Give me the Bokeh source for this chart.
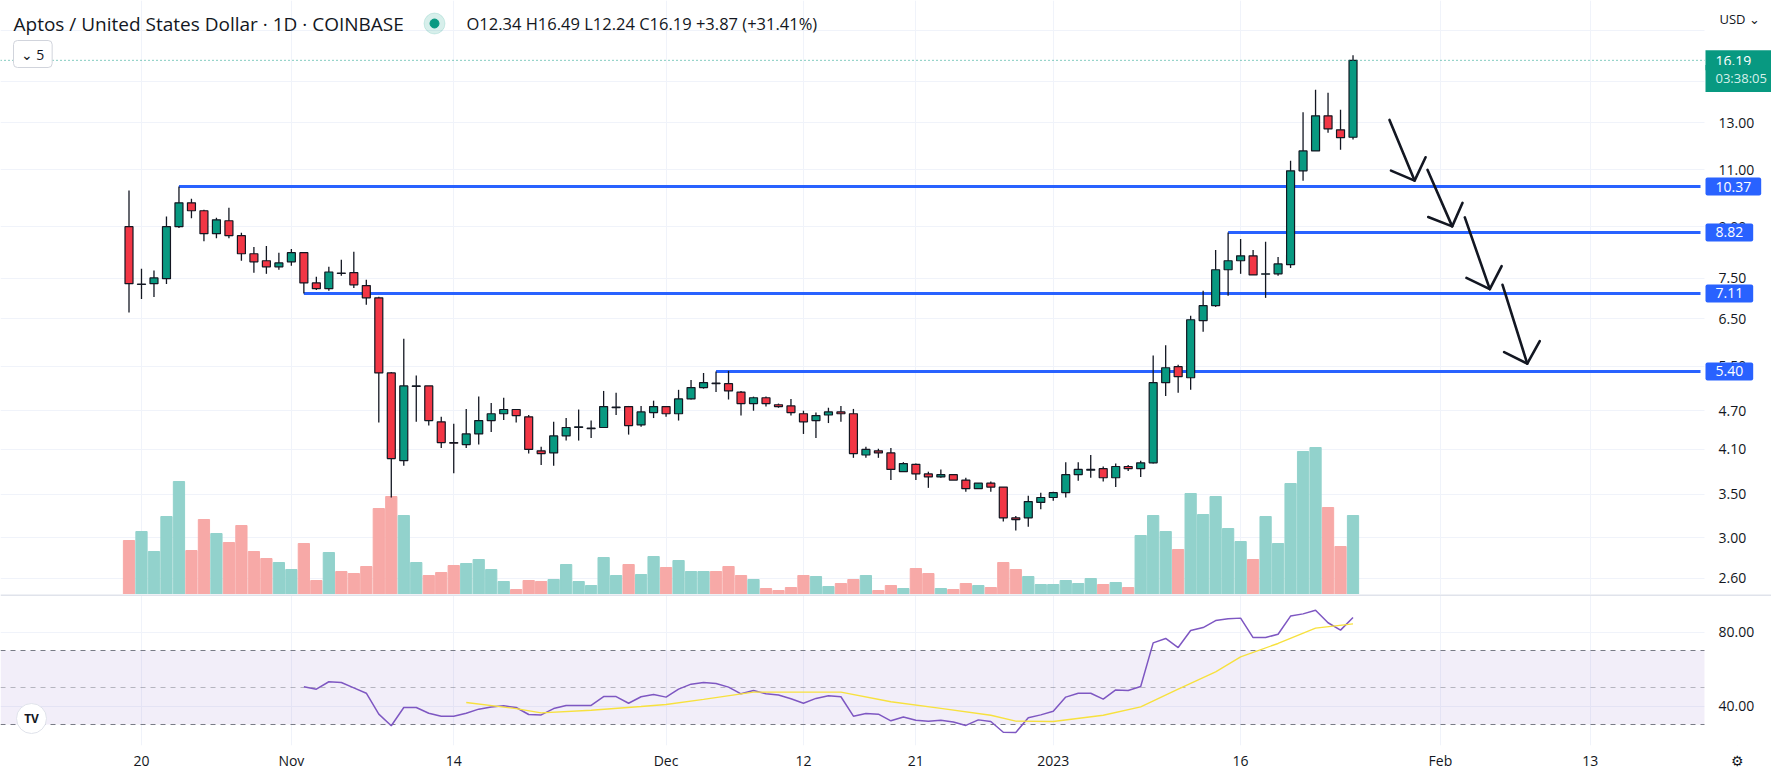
import math
import pandas as pd
from bokeh.plotting import figure
from bokeh.layouts import column
from bokeh.models import Range1d, LinearScale, FixedTicker, Label, Span, BoxAnnotation, Grid
from bokeh.embed import file_html
from bokeh.resources import INLINE

# ---------------- data ----------------
start_date = "2022-10-19"

open_ = [9.00, 7.34, 7.36, 7.49, 9.00, 9.79, 9.52, 8.78, 9.19, 8.72,
         8.18, 7.98, 7.81, 7.95, 8.21, 7.38, 7.23, 7.64, 7.65, 7.31,
         7.00, 5.37, 3.94, 5.12, 5.13, 4.52, 4.20, 4.17, 4.33, 4.54,
         4.65, 4.72, 4.60, 4.08, 4.05, 4.30, 4.43, 4.41, 4.43, 4.75,
         4.77, 4.47, 4.67, 4.77, 4.65, 4.90, 5.10, 5.18, 5.17, 5.02,
         4.82, 4.92, 4.80, 4.78, 4.65, 4.54, 4.63, 4.68, 4.65, 4.02,
         4.08, 4.05, 3.79, 3.89, 3.76, 3.72, 3.75, 3.68, 3.57, 3.64,
         3.59, 3.22, 3.22, 3.40, 3.46, 3.52, 3.75, 3.81, 3.83, 3.71,
         3.86, 3.83, 3.91, 5.19, 5.49, 5.28, 6.46, 6.81, 7.73, 7.98,
         8.12, 7.61, 7.62, 7.87, 10.96, 11.76, 13.31, 12.67, 12.34]
high = [10.23, 7.76, 7.71, 9.33, 10.37, 9.93, 9.55, 9.29, 9.62, 8.81,
        8.38, 8.41, 8.21, 8.32, 8.21, 7.54, 7.81, 8.01, 8.24, 7.46,
        7.03, 5.39, 6.06, 5.32, 5.13, 4.60, 4.49, 4.73, 4.94, 4.83,
        4.92, 4.72, 4.63, 4.14, 4.52, 4.58, 4.72, 4.54, 5.04, 5.01,
        4.78, 4.78, 4.87, 4.78, 5.06, 5.24, 5.37, 5.40, 5.41, 5.04,
        4.94, 4.94, 4.82, 4.90, 4.70, 4.67, 4.75, 4.78, 4.73, 4.14,
        4.11, 4.12, 3.92, 3.90, 3.79, 3.82, 3.76, 3.71, 3.64, 3.66,
        3.59, 3.24, 3.48, 3.52, 3.53, 3.92, 3.92, 4.02, 3.86, 3.90,
        3.88, 3.94, 5.71, 5.92, 5.53, 6.57, 7.18, 8.29, 8.82, 8.62,
        8.29, 8.53, 8.09, 11.36, 13.48, 14.59, 14.44, 13.60, 16.49]
low = [6.65, 6.97, 7.02, 7.35, 8.96, 9.27, 8.55, 8.64, 8.64, 7.98,
       7.65, 7.62, 7.73, 7.84, 7.11, 7.20, 7.18, 7.57, 7.25, 6.83,
       4.51, 3.46, 3.87, 4.52, 4.46, 4.12, 3.77, 4.12, 4.17, 4.36,
       4.55, 4.51, 4.04, 3.88, 3.87, 4.23, 4.23, 4.27, 4.43, 4.63,
       4.32, 4.44, 4.58, 4.60, 4.54, 4.89, 5.08, 5.02, 4.89, 4.62,
       4.70, 4.77, 4.75, 4.62, 4.33, 4.27, 4.50, 4.52, 3.98, 3.98,
       3.98, 3.68, 3.79, 3.68, 3.58, 3.71, 3.68, 3.53, 3.57, 3.53,
       3.18, 3.08, 3.12, 3.32, 3.42, 3.46, 3.67, 3.71, 3.66, 3.59,
       3.80, 3.72, 3.90, 4.95, 5.01, 5.06, 6.21, 6.78, 7.05, 7.62,
       7.59, 7.00, 7.57, 7.78, 10.58, 11.76, 12.54, 11.81, 12.24]
close = [7.36, 7.35, 7.51, 9.00, 9.79, 9.52, 8.78, 9.22, 8.72, 8.18,
         7.95, 7.81, 7.92, 8.21, 7.38, 7.23, 7.67, 7.63, 7.33, 7.00,
         5.37, 3.97, 5.13, 5.13, 4.54, 4.20, 4.19, 4.33, 4.54, 4.65,
         4.72, 4.62, 4.10, 4.04, 4.30, 4.43, 4.44, 4.42, 4.77, 4.76,
         4.46, 4.68, 4.77, 4.65, 4.90, 5.10, 5.19, 5.17, 5.04, 4.82,
         4.92, 4.82, 4.77, 4.67, 4.52, 4.62, 4.68, 4.65, 4.04, 4.10,
         4.05, 3.82, 3.90, 3.76, 3.72, 3.75, 3.68, 3.57, 3.64, 3.59,
         3.22, 3.20, 3.41, 3.46, 3.52, 3.75, 3.82, 3.82, 3.71, 3.86,
         3.83, 3.91, 5.19, 5.47, 5.30, 6.48, 6.81, 7.73, 7.98, 8.12,
         7.59, 7.62, 7.89, 10.96, 11.76, 13.31, 12.71, 12.32, 16.19]
# volume in relative units (taller bar = more volume)
volume = [54, 63, 43, 78, 113, 44, 75, 61, 52, 69,
          43, 36, 32, 25, 51, 14, 42, 23, 21, 28,
          86, 98, 79, 32, 19, 22, 29, 31, 35, 25,
          13, 5, 14, 13, 15, 30, 13, 9, 37, 19,
          30, 20, 38, 27, 34, 23, 23, 23, 28, 19,
          15, 6, 4, 7, 19, 18, 8, 11, 15, 19,
          4, 9, 6, 26, 21, 6, 5, 11, 9, 7,
          32, 25, 18, 10, 10, 14, 11, 16, 10, 12,
          7, 59, 79, 63, 45, 101, 80, 98, 66, 53,
          35, 78, 51, 111, 143, 147, 87, 48, 79]

rsi_first_bar = 14
rsi = [50.4, 49.1, 53.1, 52.7, 49.8, 46.9, 35.6, 29.3, 39.2, 39.2,
       36.1, 34.5, 34.5, 36.1, 38.3, 39.5, 40.1, 39.2, 35.4, 35.2,
       38.6, 40.3, 40.3, 40.3, 45.1, 45.1, 41.5, 45.0, 46.2, 44.8,
       49.1, 51.8, 52.7, 52.2, 50.2, 46.6, 48.4, 46.6, 45.9, 43.9,
       41.5, 44.1, 45.5, 45.0, 34.5, 35.9, 35.6, 32.0, 34.1, 32.3,
       31.8, 32.3, 31.4, 29.5, 32.5, 31.6, 25.8, 25.7, 33.6, 35.2,
       37.2, 44.8, 46.9, 46.9, 43.7, 48.7, 48.4, 50.5, 74.1, 76.5,
       71.6, 80.8, 82.4, 86.2, 87.1, 87.5, 77.0, 77.0, 78.8, 88.6,
       89.8, 91.8, 85.0, 81.0, 87.8]
rsi_ma_bar = [27, 31, 33, 37, 41, 43, 46, 50, 57, 61, 65, 69, 71, 74, 78, 81, 84, 87, 89, 92, 95, 98]
rsi_ma = [41.9, 38.6, 36.3, 37.7, 39.7, 40.8, 43.6, 47.5, 47.5, 42.3, 38.7, 35.0, 31.8, 31.6,
          35.0, 39.5, 49.1, 58.5, 66.6, 73.8, 82.1, 84.4]

level_prices = [10.37, 8.82, 7.11, 5.40]
level_start = ["2022-10-23", "2023-01-15", "2022-11-02", "2022-12-05"]
level_labels = ["10.37", "8.82", "7.11", "5.40"]

# hand-drawn arrows: (bar offset from start, price) of tail, tip, left barb, right barb
arrow_tail = [(100.92, 13.12), (103.96, 11.00), (106.95, 9.30), (109.97, 7.33)]
arrow_tip = [(102.93, 10.59), (105.94, 9.01), (108.95, 7.22), (111.95, 5.55)]
arrow_left = [(101.04, 10.97), (104.02, 9.31), (107.08, 7.51), (110.10, 5.78)]
arrow_right = [(103.81, 11.50), (106.77, 9.79), (109.90, 7.83), (112.95, 6.01)]

price_ticks = [2.6, 3.0, 3.5, 4.1, 4.7, 5.5, 6.5, 7.5, 9.0, 11.0, 13.0, 15.0, 18.0]
rsi_ticks = [40, 80]
x_tick_dates = ["2022-10-20", "2022-11-01", "2022-11-14", "2022-12-01", "2022-12-12",
                "2022-12-21", "2023-01-01", "2023-01-16", "2023-02-01", "2023-02-13"]
x_tick_labels = ["20", "Nov", "14", "Dec", "12", "21", "2023", "16", "Feb", "13"]

title_text = "Aptos / United States Dollar · 1D · COINBASE"
ohlc_text = "O12.34 H16.49 L12.24 C16.19 +3.87 (+31.41%)"
last_price = 16.19
countdown = "03:38:05"

# ---------------- styling / geometry ----------------
GREEN, RED = "#089981", "#f23645"
VOL_GREEN, VOL_RED = "#92d2cc", "#f7a9a7"
BLUE = "#2962ff"
INK = "#131722"
GRID = "#f0f3fa"
FONT = "Open Sans"

FIG_W, MAIN_H, RSI_H = 1771, 594, 187
RSI_FRAME_BOTTOM = 745
SCALE_X = 1700                     # left edge of the price-scale column
BAR0_PX, BAR_STEP = 128.5, 12.49   # x of first bar, px per day
DAY = 86_400_000


def ms(d):
    return int(pd.Timestamp(d).value // 10**6)


t0 = ms(start_date)
dates = [t0 + i * DAY for i in range(len(open_))]


def px2x(px):
    return t0 + (px - BAR0_PX) / BAR_STEP * DAY


def bar2x(b):
    return t0 + b * DAY


def py2price(py):
    return 13.0 * math.exp((122.0 - py) / 283.3)


def py2rsi(py):
    return 70.0 - (py - 650.0) / 1.85


x_range = Range1d(px2x(0), px2x(FIG_W))
x_ticks = [ms(d) for d in x_tick_dates]


def scale_label(fig, y, txt):
    fig.add_layout(Label(x=px2x(SCALE_X + 18), y=y, text=txt, text_font=FONT,
                         text_font_size="14px", text_color=INK, text_baseline="middle",
                         text_align="left"))


# ---------------- main price pane ----------------
p = figure(width=FIG_W, height=MAIN_H, x_range=x_range,
           y_range=Range1d(py2price(MAIN_H), py2price(0)),
           x_axis_type="datetime", y_axis_type="log",
           x_axis_location=None, y_axis_location=None,
           output_backend="svg", toolbar_location=None,
           min_border_left=0, min_border_right=0, min_border_top=0, min_border_bottom=0,
           outline_line_color=None, background_fill_color="white", border_fill_color="white")
p.extra_y_ranges = {"vol": Range1d(0, MAIN_H)}
p.extra_y_scales = {"vol": LinearScale()}

for g in list(p.xgrid) + list(p.ygrid):
    g.visible = False
p.add_layout(Grid(dimension=0, ticker=FixedTicker(ticks=x_ticks), grid_line_color=GRID))
p.add_layout(Grid(dimension=1, ticker=FixedTicker(ticks=price_ticks), grid_line_color=GRID))

up = [c >= o for o, c in zip(open_, close)]
vol_colors = [VOL_GREEN if u else VOL_RED for u in up]
p.vbar(x=dates, top=volume, bottom=0, width=0.9 * DAY, color=vol_colors, y_range_name="vol")

# horizontal levels (drawn under candles)
lv_x0 = [ms(d) for d in level_start]
p.segment(x0=lv_x0, y0=level_prices, x1=[px2x(SCALE_X)] * len(level_prices), y1=level_prices,
          line_color=BLUE, line_width=3)

# candles
p.segment(x0=dates, y0=low, x1=dates, y1=high, line_color=INK, line_width=1.3)
body_top = [max(o, c) for o, c in zip(open_, close)]
body_bot = [min(o, c) for o, c in zip(open_, close)]
p.vbar(x=dates, top=body_top, bottom=body_bot, width=0.64 * DAY,
       fill_color=[GREEN if u else RED for u in up], line_color=INK, line_width=1.2)

p.add_layout(Span(location=last_price, dimension="width", line_color=GREEN,
                  line_dash="1 3", line_width=1))

# arrows
axs, ays = [], []
for t, tip, l, r in zip(arrow_tail, arrow_tip, arrow_left, arrow_right):
    axs.append([bar2x(t[0]), bar2x(tip[0])])
    ays.append([t[1], tip[1]])
    axs.append([bar2x(l[0]), bar2x(tip[0]), bar2x(r[0])])
    ays.append([l[1], tip[1], r[1]])
p.multi_line(xs=axs, ys=ays, line_color=INK, line_width=2.6, line_join="round", line_cap="round")

# header
p.add_layout(Label(x=px2x(13), y=py2price(23), text=title_text, text_font=FONT,
                   text_font_size="19px", text_color=INK, text_baseline="middle", text_align="left"))
p.scatter(x=[px2x(434)], y=[py2price(23)], size=21, color=GREEN, alpha=0.16)
p.scatter(x=[px2x(434)], y=[py2price(23)], size=9, color=GREEN)
p.add_layout(Label(x=px2x(466), y=py2price(23), text=ohlc_text, text_font=FONT,
                   text_font_size="16.5px", text_color=INK, text_baseline="middle", text_align="left"))
p.add_layout(Label(x=px2x(13), y=py2price(53.5), text="⌄ 5", text_font=FONT,
                   text_font_size="14px", text_color=INK, text_baseline="middle", text_align="left",
                   background_fill_color="white", border_line_color="#d1d4dc", border_radius=4,
                   padding=dict(left=7, right=8, top=4, bottom=4)))

# price-scale column
p.add_layout(BoxAnnotation(left=px2x(SCALE_X + 4), fill_color="white", fill_alpha=1.0, line_color=None))
for t in price_ticks:
    scale_label(p, t, f"{t:.2f}")
p.add_layout(Label(x=px2x(SCALE_X + 17), y=py2price(20), text="USD ⌄", text_font=FONT,
                   text_font_size="13px", text_color=INK, text_baseline="middle", text_align="left",
                   background_fill_color="white", padding=dict(left=2, right=20, top=5, bottom=8)))
box_x = px2x(SCALE_X + 5)
for price, txt in zip(level_prices, level_labels):
    p.add_layout(Label(x=box_x, y=price, text=txt, text_font=FONT, text_font_size="14px",
                       text_color="white", text_baseline="middle", text_align="left",
                       background_fill_color=BLUE, border_radius=2,
                       padding=dict(left=10, right=10, top=4, bottom=4)))
p.add_layout(Label(x=box_x, y=last_price, text=f"{last_price:.2f}", text_font=FONT,
                   text_font_size="14px", text_color="white", text_baseline="middle",
                   text_align="left", background_fill_color=GREEN,
                   padding=dict(left=10, right=30, top=6, bottom=4)))
p.add_layout(Label(x=box_x, y=py2price(78), text=countdown, text_font=FONT,
                   text_font_size="13px", text_color="#d6f0ea", text_baseline="middle",
                   text_align="left", background_fill_color=GREEN,
                   padding=dict(left=10, right=10, top=4, bottom=5)))

# ---------------- RSI pane ----------------
r = figure(width=FIG_W, height=RSI_H, x_range=x_range,
           y_range=Range1d(py2rsi(RSI_FRAME_BOTTOM), py2rsi(MAIN_H)),
           x_axis_type="datetime", y_axis_location=None,
           output_backend="svg", toolbar_location=None,
           min_border_left=0, min_border_right=0, min_border_top=0,
           min_border_bottom=MAIN_H + RSI_H - RSI_FRAME_BOTTOM,
           outline_line_color=None, background_fill_color="white", border_fill_color="white")
for g in r.ygrid:
    g.visible = False
r.xgrid.grid_line_color = GRID
r.add_layout(Grid(dimension=1, ticker=FixedTicker(ticks=rsi_ticks), grid_line_color=GRID))
r.add_layout(BoxAnnotation(bottom=30, top=70, fill_color="#7e57c2", fill_alpha=0.1,
                           line_color=None, level="underlay"))
for loc, alpha in [(70, 1.0), (50, 0.5), (30, 1.0)]:
    r.add_layout(Span(location=loc, dimension="width", line_color="#787b86", line_alpha=alpha,
                      line_dash="5 5", line_width=1, level="underlay"))

r.line(x=dates[rsi_first_bar:], y=rsi, line_color="#7e57c2", line_width=1.5)
r.line(x=[dates[b] for b in rsi_ma_bar], y=rsi_ma, line_color="#f7e13e", line_width=1.4)

# date axis; the settings cog sits in the same row, under the price-scale column
gear_x = px2x(1737)
rx = r.xaxis[0]
rx.ticker = FixedTicker(ticks=x_ticks + [gear_x])
overrides = {t: lab for t, lab in zip(x_ticks, x_tick_labels)}
overrides[gear_x] = "⚙"
rx.major_label_overrides = overrides
rx.axis_line_color = None
rx.major_tick_line_color = None
rx.minor_tick_line_color = None
rx.major_tick_out = 0
rx.major_tick_in = 0
rx.major_label_standoff = 5
rx.major_label_text_font = FONT
rx.major_label_text_font_size = "14px"
rx.major_label_text_color = INK

r.add_layout(BoxAnnotation(left=px2x(SCALE_X + 4), fill_color="white", fill_alpha=1.0, line_color=None))
for t in rsi_ticks:
    scale_label(r, t, f"{t:.2f}")
r.add_layout(Span(location=py2rsi(MAIN_H + 0.5), dimension="width", line_color="#e0e3eb", line_width=2))

# TradingView badge
r.scatter(x=[px2x(31)], y=[py2rsi(718)], size=30, fill_color="white", line_color="#e0e3eb")
r.add_layout(Label(x=px2x(31), y=py2rsi(718), text="TV", text_font=FONT, text_font_size="12px",
                   text_font_style="bold", text_color=INK, text_align="center", text_baseline="middle"))

layout = column(p, r, spacing=0)
open("out.html", "w").write(file_html(layout, INLINE))
